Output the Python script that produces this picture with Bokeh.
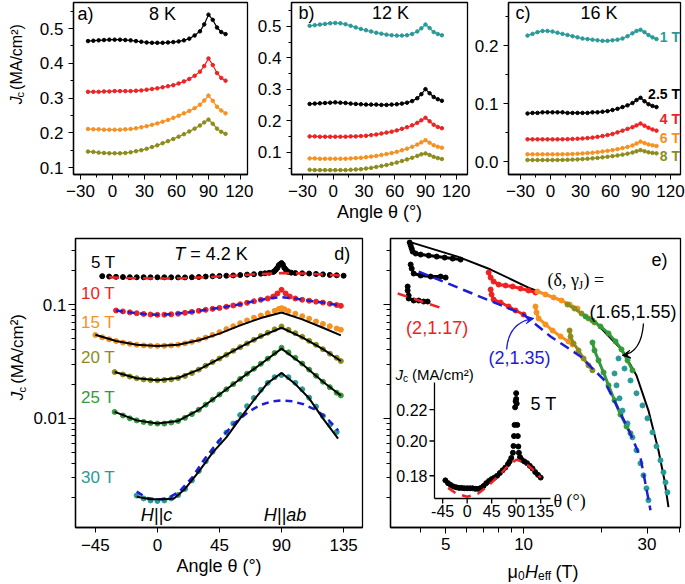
import math
from bokeh.plotting import figure
from bokeh.layouts import column, row
from bokeh.models import (Range1d, SingleIntervalTicker, FixedTicker, NumeralTickFormatter,
                          CustomJSTickFormatter, Label, Arrow, VeeHead, LinearScale, LogScale)
from bokeh.embed import file_html
from bokeh.resources import INLINE
from bokeh.core.properties import value

SANS = "Liberation Sans"
SERIF = "Liberation Serif"
BLACK = "#000000"; RED = "#ee2222"; ORANGE = "#f7901e"; OLIVE = "#8c8c1c"
GREEN = "#329a3a"; TEAL = "#2a9a98"; BLUE = "#1d1dd8"

# ---------------- panels a-c : Jc vs angle at 8, 12, 16 K ----------------
TH_ABC = [-23, -18, -13, -8, -3, 2, 7, 12, 17, 22, 27, 32, 37, 42, 47, 52, 57, 62, 67, 72,
          77, 82, 86, 90, 94, 98, 102, 106]
jc8_k = [0.464, 0.465, 0.466, 0.467, 0.468, 0.468, 0.468, 0.467, 0.466, 0.464, 0.462, 0.460, 0.459, 0.459,
         0.459, 0.460, 0.461, 0.463, 0.466, 0.471, 0.480, 0.492, 0.512, 0.540, 0.525, 0.503, 0.490, 0.484]
jc8_r = [0.318, 0.318, 0.318, 0.319, 0.319, 0.320, 0.320, 0.320, 0.320, 0.321, 0.322, 0.324, 0.326, 0.328,
         0.331, 0.334, 0.337, 0.342, 0.348, 0.355, 0.364, 0.376, 0.392, 0.414, 0.395, 0.372, 0.358, 0.350]
jc8_o = [0.211, 0.210, 0.210, 0.209, 0.209, 0.209, 0.209, 0.210, 0.211, 0.213, 0.216, 0.219, 0.223, 0.227,
         0.232, 0.237, 0.243, 0.249, 0.256, 0.263, 0.271, 0.281, 0.293, 0.307, 0.292, 0.275, 0.264, 0.256]
jc8_v = [0.146, 0.145, 0.143, 0.142, 0.141, 0.141, 0.141, 0.142, 0.144, 0.147, 0.150, 0.154, 0.159, 0.164,
         0.170, 0.176, 0.182, 0.189, 0.196, 0.204, 0.212, 0.221, 0.230, 0.238, 0.226, 0.212, 0.203, 0.197]
jc12_t = [0.502, 0.504, 0.506, 0.508, 0.510, 0.511, 0.510, 0.507, 0.502, 0.497, 0.492, 0.488, 0.484, 0.480,
          0.477, 0.474, 0.472, 0.471, 0.471, 0.472, 0.476, 0.484, 0.494, 0.506, 0.495, 0.482, 0.476, 0.472]
jc12_k = [0.254, 0.255, 0.256, 0.257, 0.258, 0.259, 0.258, 0.257, 0.255, 0.254, 0.253, 0.252, 0.252, 0.252,
          0.251, 0.251, 0.252, 0.253, 0.255, 0.258, 0.263, 0.272, 0.285, 0.301, 0.288, 0.276, 0.269, 0.264]
jc12_r = [0.151, 0.151, 0.150, 0.150, 0.150, 0.150, 0.150, 0.150, 0.151, 0.151, 0.152, 0.153, 0.155, 0.157,
          0.160, 0.163, 0.166, 0.170, 0.175, 0.180, 0.186, 0.194, 0.202, 0.210, 0.199, 0.188, 0.181, 0.177]
jc12_o = [0.081, 0.081, 0.080, 0.080, 0.080, 0.080, 0.080, 0.080, 0.081, 0.082, 0.083, 0.085, 0.087, 0.089,
          0.092, 0.095, 0.098, 0.102, 0.107, 0.112, 0.118, 0.125, 0.132, 0.139, 0.131, 0.123, 0.118, 0.115]
jc12_v = [0.045, 0.044, 0.044, 0.044, 0.044, 0.044, 0.044, 0.044, 0.045, 0.046, 0.047, 0.049, 0.051, 0.054,
          0.057, 0.060, 0.064, 0.068, 0.073, 0.078, 0.083, 0.089, 0.094, 0.097, 0.092, 0.086, 0.082, 0.079]
jc16_t = [0.217, 0.220, 0.223, 0.225, 0.225, 0.224, 0.222, 0.220, 0.218, 0.216, 0.214, 0.212, 0.211, 0.210,
          0.209, 0.208, 0.208, 0.209, 0.210, 0.212, 0.216, 0.221, 0.225, 0.227, 0.223, 0.218, 0.214, 0.211]
jc16_k = [0.083, 0.084, 0.084, 0.085, 0.085, 0.085, 0.085, 0.085, 0.084, 0.084, 0.084, 0.084, 0.084, 0.085,
          0.085, 0.086, 0.087, 0.089, 0.091, 0.094, 0.097, 0.101, 0.106, 0.110, 0.104, 0.099, 0.096, 0.094]
jc16_r = [0.0386, 0.0385, 0.0385, 0.0385, 0.0385, 0.0385, 0.0385, 0.0386, 0.0388, 0.0391, 0.0395, 0.0400,
          0.0407, 0.0415, 0.0428, 0.0442, 0.0458, 0.0478, 0.0505, 0.0535, 0.0565, 0.0595, 0.0625, 0.0657,
          0.0620, 0.0585, 0.0555, 0.0535]
jc16_o = [0.0127, 0.0127, 0.0127, 0.0127, 0.0127, 0.0127, 0.0127, 0.0128, 0.0130, 0.0133, 0.0137, 0.0142,
          0.0148, 0.0155, 0.0164, 0.0175, 0.0187, 0.0200, 0.0216, 0.0234, 0.0254, 0.0280, 0.0312, 0.0346,
          0.0320, 0.0298, 0.0282, 0.0270]
jc16_v = [0.0030, 0.0029, 0.0029, 0.0029, 0.0029, 0.0029, 0.0030, 0.0031, 0.0033, 0.0036, 0.0040, 0.0045,
          0.0051, 0.0058, 0.0066, 0.0075, 0.0085, 0.0096, 0.0108, 0.0122, 0.0138, 0.0158, 0.0180, 0.0200,
          0.0180, 0.0162, 0.0152, 0.0144]
FIELD_LABELS_C = ["1 T", "2.5 T", "4 T", "6 T", "8 T"]
FIELD_LABEL_Y_C = [0.2138, 0.1172, 0.0741, 0.0414, 0.0103]

# ---------------- panel d : 4.2 K ----------------
theta5 = [-40, -35, -30, -25, -20, -15, -10, -5, 0, 5, 10, 15, 20, 25, 30, 35, 40, 45, 50, 55,
          60, 65, 70, 75, 78, 81, 84, 85, 86, 87, 88, 89, 90, 90, 91, 92, 93, 94, 95, 97,
          100, 105, 110, 115, 120, 125, 130, 135]
jc5 = [0.1775, 0.1760, 0.1750, 0.1742, 0.1738, 0.1735, 0.1735, 0.1733, 0.1733, 0.1733,
       0.1733, 0.1730, 0.1730, 0.1735, 0.1745, 0.1760, 0.1772, 0.1782, 0.1790, 0.1800,
       0.1815, 0.1830, 0.1845, 0.1865, 0.1880, 0.1900, 0.1930, 0.1970, 0.2030, 0.2100,
       0.2215, 0.2256, 0.2312, 0.2272, 0.2240, 0.2100, 0.2030, 0.1967, 0.1930, 0.1905,
       0.1890, 0.1880, 0.1870, 0.1855, 0.1840, 0.1820, 0.1805, 0.1790]
th5f = [-35, -20, 0, 20, 40, 60, 75, 90, 105, 120, 135]
jc5f = [0.1735, 0.1705, 0.1689, 0.1705, 0.1750, 0.1805, 0.1855, 0.1890, 0.1875, 0.1835, 0.1790]
th10 = [-30, -25, -20, -15, -10, -5, 0, 5, 10, 15, 20, 25, 30, 35, 40, 45, 50, 55, 60, 65, 70, 75,
        80, 84, 87, 90, 93, 96, 100, 105, 110, 115, 120, 125, 130, 133]
jc10 = [0.0886, 0.0870, 0.0853, 0.0838, 0.0826, 0.0817, 0.0812, 0.0814, 0.0820, 0.0830,
        0.0845, 0.0862, 0.0880, 0.0898, 0.0916, 0.0933, 0.0955, 0.0980, 0.1005, 0.1035,
        0.1068, 0.1100, 0.1130, 0.1175, 0.1250, 0.1346, 0.1250, 0.1175, 0.1130, 0.1100,
        0.1080, 0.1060, 0.1040, 0.1015, 0.0990, 0.0974]
th10f = [-30, -20, -10, 0, 10, 20, 30, 40, 50, 60, 70, 80, 90, 100, 110, 120, 133]
jc10f = [0.0886, 0.0853, 0.0826, 0.0812, 0.0820, 0.0845, 0.0880, 0.0916, 0.0955, 0.1005,
         0.1068, 0.1128, 0.1159, 0.1128, 0.1080, 0.1040, 0.0974]
th15 = [-45, -40, -35, -30, -25, -20, -15, -10, -5, 0, 5, 10, 15, 20, 25, 30, 35, 40, 45, 50, 55,
        60, 65, 70, 75, 80, 85, 88, 90, 92, 95, 100, 105, 110, 115, 120, 125, 130, 133]
jc15 = [0.0540, 0.0515, 0.0495, 0.0478, 0.0463, 0.0452, 0.0443, 0.0437, 0.0434, 0.0433,
        0.0434, 0.0437, 0.0444, 0.0455, 0.0470, 0.0490, 0.0512, 0.0540, 0.0572, 0.0608,
        0.0645, 0.0685, 0.0725, 0.0765, 0.0800, 0.0840, 0.0880, 0.0915, 0.0929, 0.0910,
        0.0875, 0.0830, 0.0790, 0.0750, 0.0710, 0.0675, 0.0645, 0.0615, 0.0600]
th15f = [-45, -30, -15, 0, 15, 30, 45, 60, 75, 90, 105, 120, 133]
jc15f = [0.0542, 0.0478, 0.0443, 0.0432, 0.0443, 0.0485, 0.0555, 0.0655, 0.0760, 0.0851,
         0.0740, 0.0625, 0.0535]
TH_D = [-31, -25, -20, -15, -10, -5, 0, 5, 10, 15, 20, 25, 30, 35, 40, 45, 50, 55, 60, 65, 70, 75,
        80, 85, 90, 95, 100, 105, 110, 115, 120, 125, 130, 133]
jc20 = [0.0255, 0.0243, 0.0233, 0.0225, 0.0220, 0.0217, 0.0216, 0.0217, 0.0220, 0.0226,
        0.0236, 0.0250, 0.0268, 0.0290, 0.0312, 0.0335, 0.0362, 0.0392, 0.0422, 0.0455,
        0.0490, 0.0528, 0.0565, 0.0605, 0.0641, 0.0600, 0.0560, 0.0520, 0.0480, 0.0443,
        0.0405, 0.0370, 0.0340, 0.0319]
jc25 = [0.0114, 0.0106, 0.0100, 0.0096, 0.0093, 0.0091, 0.0090, 0.0090, 0.0092, 0.0095,
        0.0101, 0.0109, 0.0119, 0.0132, 0.0146, 0.0162, 0.0180, 0.0200, 0.0222, 0.0247,
        0.0273, 0.0302, 0.0335, 0.0375, 0.0417, 0.0380, 0.0340, 0.0303, 0.0268, 0.0237,
        0.0210, 0.0188, 0.0168, 0.0159]
TH_DF = [-31, -15, 0, 15, 30, 45, 60, 75, 90, 105, 120, 133]
jc20f = [0.0255, 0.0225, 0.0216, 0.0226, 0.0268, 0.0335, 0.0422, 0.0525, 0.0625, 0.0515, 0.0405, 0.0319]
jc25f = [0.0114, 0.0096, 0.0090, 0.0095, 0.0119, 0.0162, 0.0222, 0.0300, 0.0410, 0.0300, 0.0210, 0.0159]
th30 = [-15, -10, -5, 0, 5, 10, 15, 20, 25, 30, 35, 40, 45, 50, 55, 60, 65, 70, 75, 80, 85, 90,
        95, 100, 105, 110, 115, 120, 125, 130]
jc30 = [0.00210, 0.00198, 0.00190, 0.00188, 0.00190, 0.00198, 0.00212, 0.00240, 0.00285, 0.00345,
        0.00420, 0.00510, 0.00620, 0.00750, 0.00900, 0.01070, 0.01280, 0.01510, 0.01780, 0.02050,
        0.02300, 0.02400, 0.02300, 0.02050, 0.01800, 0.01520, 0.01270, 0.01050, 0.00880, 0.00760]
th30f = [-15, -5, 0, 5, 12, 20, 30, 40, 50, 60, 70, 80, 90, 100, 110, 120, 131]
jc30f = [0.00205, 0.00195, 0.00195, 0.00195, 0.00198, 0.0024, 0.0034, 0.0050, 0.0068, 0.0100,
         0.0145, 0.0205, 0.0250, 0.0200, 0.0150, 0.0100, 0.00664]
th30b = [-15, -8, 0, 8, 16, 25, 33, 41, 49, 57, 66, 74, 82, 90, 98, 106, 114, 122, 131]
jc30b = [0.00228, 0.00200, 0.00193, 0.00200, 0.00228, 0.0030, 0.0042, 0.0056, 0.00735, 0.0093,
         0.0114, 0.0130, 0.0140, 0.0144, 0.0141, 0.0133, 0.0120, 0.0103, 0.00785]
D_LABELS = ["5 T", "10 T", "15 T", "20 T", "25 T", "30 T"]
D_LABEL_Y = [0.2336, 0.1249, 0.0695, 0.0343, 0.01527, 0.00305]

# ---------------- panel e : Jc vs effective field ----------------
heff_fa = [3.597, 5.562, 7.46, 10.64, 14.27, 19.31, 24.11, 27.31, 30.38, 33.2, 35.03, 36.3]
jc_fa = [0.357, 0.2636, 0.2028, 0.1381, 0.1062, 0.0668, 0.0395, 0.0238, 0.0117, 0.00524, 0.00286, 0.00166]
heff_fb = [3.932, 10.0, 12.71, 16.6, 20.37, 25.21, 28.29, 30.93]
jc_fb = [0.1948, 0.0817, 0.0524, 0.035, 0.022, 0.00834, 0.00455, 0.00156]
heff_fr = [3.262, 4.998]
jc_fr = [0.1249, 0.0904]
hx_k1 = [3.629, 3.662, 3.695, 3.727, 3.83, 4.002, 4.298, 4.615, 4.955, 5.32, 5.711]
jy_k1 = [0.350, 0.3293, 0.3099, 0.2917, 0.2803, 0.2745, 0.269, 0.2636, 0.2582, 0.2531, 0.2481]
hx_k2 = [3.662, 3.695, 3.761, 4.002, 4.374, 4.78, 4.998]
jy_k2 = [0.2243, 0.2069, 0.187, 0.1797, 0.176, 0.176, 0.1725]
hx_k3 = [3.565, 3.565, 3.597, 3.597, 3.761, 3.932, 4.111, 4.259]
jy_k3 = [0.1439, 0.1327, 0.1199, 0.1129, 0.1084, 0.1084, 0.1062, 0.1062]
hx_r1 = [7.328, 7.46, 7.661, 8.009, 8.52, 9.07, 9.736, 10.45, 11.12]
jy_r1 = [0.1909, 0.1725, 0.1591, 0.1497, 0.1468, 0.1439, 0.1381, 0.1327, 0.1274]
hx_r2 = [7.46, 7.52, 7.661, 8.152, 8.752, 9.314, 10.0]
jy_r2 = [0.1354, 0.1224, 0.1106, 0.1041, 0.096, 0.0886, 0.0817]
hx_o1 = [11.32, 12.16, 13.06, 14.02, 15.06, 16.16]
jy_o1 = [0.13, 0.1224, 0.1152, 0.1084, 0.1, 0.0922]
hx_o2 = [11.12, 11.22, 11.43, 12.16, 12.94, 13.9, 14.92, 15.46]
jy_o2 = [0.096, 0.0851, 0.0754, 0.0668, 0.0591, 0.0524, 0.0474, 0.0446]
hx_v1 = [14.78, 15.73, 16.75, 17.82, 18.8]
jy_v1 = [0.1, 0.0922, 0.0834, 0.0754, 0.0695]
hx_v2 = [15.06, 15.19, 15.6, 16.31, 17.05, 17.82, 18.46]
jy_v2 = [0.0591, 0.0524, 0.0455, 0.0395, 0.0336, 0.0292, 0.0264]
hx_g1 = [17.36, 18.46, 19.83, 21.29, 22.66, 23.9, 25.21, 26.35]
jy_g1 = [0.0785, 0.0724, 0.0641, 0.0557, 0.0474, 0.0403, 0.0323, 0.0264]
hx_g2 = [18.46, 18.8, 19.48, 20.37, 21.29, 22.46, 23.69, 24.99, 25.89]
jy_g2 = [0.0464, 0.0395, 0.0323, 0.0253, 0.0195, 0.0144, 0.0108, 0.0085, 0.00739]
hx_t1 = [23.27, 24.55, 25.89, 27.31, 28.81, 30.11, 31.49, 32.63, 33.81, 34.72, 35.35, 35.97]
jy_t1 = [0.0336, 0.0274, 0.0215, 0.0166, 0.0130, 0.0100, 0.00754, 0.00568, 0.00428, 0.00336, 0.00274, 0.00224]
hx_t2 = [22.46, 22.86, 23.49, 24.11, 25.21, 26.35, 27.31, 28.29, 29.06, 29.85, 30.38]
jy_t2 = [0.0248, 0.0195, 0.0150, 0.0117, 0.00903, 0.00681, 0.00524, 0.00403, 0.00316, 0.00243, 0.00191]
INSET_XTICKS = [-45, 0, 45, 90, 135]
INSET_YTICKS = [0.18, 0.20, 0.22]
LOG_MINOR = [0.002, 0.003, 0.004, 0.005, 0.006, 0.007, 0.008, 0.009,
             0.02, 0.03, 0.04, 0.05, 0.06, 0.07, 0.08, 0.09, 0.2, 0.3]


def base_fig(w, h, xr, yr, bl, br, bt, bb, **kw):
    p = figure(width=w, height=h, x_range=Range1d(*xr), y_range=Range1d(*yr),
               output_backend="svg", toolbar_location=None,
               min_border_left=bl, min_border_right=br, min_border_top=bt, min_border_bottom=bb, **kw)
    p.xgrid.visible = False
    p.ygrid.visible = False
    p.outline_line_color = "black"
    p.outline_line_width = 1.3
    p.outline_line_alpha = 1.0
    p.background_fill_color = "white"
    p.border_fill_color = "white"
    for ax in p.axis:
        ax.axis_line_width = 1.3
        ax.axis_line_color = "black"
        ax.major_tick_line_color = "black"
        ax.minor_tick_line_color = "black"
        ax.major_tick_out = 5
        ax.major_tick_in = 0
        ax.minor_tick_out = 3
        ax.minor_tick_in = 0
        ax.major_label_text_font = SANS
        ax.major_label_text_font_size = "17px"
        ax.major_label_text_color = "black"
        ax.major_label_standoff = 5
        ax.axis_label_text_font = SANS
        ax.axis_label_text_font_size = "18px"
        ax.axis_label_text_font_style = "normal"
        ax.axis_label_text_color = "black"
        ax.axis_label_standoff = 2
    return p


def carrier(w, h):
    """An axis-less canvas (data units = pixels) that only carries composite axis titles."""
    p = figure(width=w, height=h, x_range=Range1d(0, w), y_range=Range1d(0, h),
               output_backend="svg", toolbar_location=None, x_axis_location=None,
               y_axis_location=None, min_border_left=0, min_border_right=0,
               min_border_top=0, min_border_bottom=0)
    p.xgrid.visible = False
    p.ygrid.visible = False
    p.outline_line_color = None
    p.background_fill_color = "white"
    p.border_fill_color = "white"
    return p


def lab(p, x, y, text, size=18, color="black", align="left", baseline="middle", style="normal",
        font=SANS, units="data", angle=0.0, xo=0, yo=0):
    p.add_layout(Label(x=x, y=y, text=text, x_units=units, y_units=units, text_font=font,
                       text_font_size=f"{size}px", text_color=color, text_align=align,
                       text_baseline=baseline, text_font_style=style, angle=angle,
                       x_offset=xo, y_offset=yo))


def jc_ylabel(p, x, y0, size=18):
    """Rotated 'J_c (MA/cm²)' drawn as text glyphs on a carrier canvas."""
    sub = int(round(size * 0.67))
    xs = [x, x + 4, x]
    ys = [y0, y0 + size * 0.55, y0 + size * 0.55 + sub * 0.5 + size * 0.3]
    texts = ["J", "c", "(MA/cm²)"]
    sizes = [f"{size}px", f"{sub}px", f"{size}px"]
    styles = ["italic", "normal", "normal"]
    for xi, yi, t, s, st in zip(xs, ys, texts, sizes, styles):
        p.text(x=[xi], y=[yi], text=[t], angle=math.pi / 2, text_align="left",
               text_baseline="middle", text_font=value(SANS), text_font_size=value(s),
               text_font_style=value(st), text_color="black")


def top_panel(w, xr, yr, bl, br, series, tag, temp, tag_xy, temp_x):
    p = base_fig(w, 230, xr, yr, bl, br, 2, 56)
    p.xaxis.ticker = SingleIntervalTicker(interval=30, num_minor_ticks=2)
    p.yaxis.ticker = SingleIntervalTicker(interval=0.1, num_minor_ticks=2)
    p.yaxis.formatter = NumeralTickFormatter(format="0.0")
    for ys, c in series:
        p.line(TH_ABC, ys, color=c, line_width=1.2)
        p.scatter(TH_ABC, ys, size=3.5, color=c)
    lab(p, tag_xy[0], tag_xy[1], tag)
    lab(p, temp_x, tag_xy[1], temp, align="center")
    return p


ylab_top = carrier(30, 230)
jc_ylabel(ylab_top, 15.5, 94, size=16)
pa = top_panel(223, (-36.6, 126.6), (0.08, 0.575), 43, 6,
               [(jc8_k, BLACK), (jc8_r, RED), (jc8_o, ORANGE), (jc8_v, OLIVE)],
               "a)", "8 K", (-32.9, 0.5432), 46.9)
pb = top_panel(218, (-40.7, 131.0), (0.03, 0.576), 38, 4,
               [(jc12_t, TEAL), (jc12_k, BLACK), (jc12_r, RED), (jc12_o, ORANGE), (jc12_v, OLIVE)],
               "b)", "12 K", (-33.9, 0.5413), 55.9)
pc = top_panel(214, (-42.0, 130.0), (-0.022, 0.274), 34, 5,
               [(jc16_t, TEAL), (jc16_k, BLACK), (jc16_r, RED), (jc16_o, ORANGE), (jc16_v, OLIVE)],
               "c)", "16 K", (-34.9, 0.2552), 48.4)
pb.xaxis.axis_label = "Angle θ (°)"
for t, yv, c in zip(FIELD_LABELS_C, FIELD_LABEL_Y_C, [TEAL, BLACK, RED, ORANGE, OLIVE]):
    lab(pc, 129.5, yv, t, size=14, color=c, align="right", style="bold")

# ---------------- panel d ----------------
ylab_d = carrier(30, 354)
jc_ylabel(ylab_d, 17, 156, size=17)
pd = base_fig(350, 354, (-59.4, 148.7), (0.0011, 0.38), 43, 18, 8, 57, y_axis_type="log")
pd.xaxis.ticker = FixedTicker(ticks=[-45, 0, 45, 90, 135])
pd.yaxis.ticker = FixedTicker(ticks=[0.01, 0.1], minor_ticks=LOG_MINOR)
pd.yaxis.formatter = CustomJSTickFormatter(code="return String(tick)")
pd.yaxis.major_tick_out = 7
pd.yaxis.minor_tick_out = 4
pd.yaxis.major_label_standoff = 2
pd.xaxis.major_label_standoff = 6
pd.xaxis.axis_label = "Angle θ (°)"

pd.scatter(theta5, jc5, size=5, color=BLACK)
pd.line(th5f, jc5f, color=RED, line_width=2.5, line_dash="10 7")
pd.scatter(th10, jc10, size=5, color=RED)
pd.line(th10f, jc10f, color=BLUE, line_width=2.5, line_dash="7 5")
pd.scatter(th15, jc15, size=5, color=ORANGE)
pd.line(th15f, jc15f, color=BLACK, line_width=2)
pd.scatter(TH_D, jc20, size=5, color=OLIVE)
pd.line(TH_DF, jc20f, color=BLACK, line_width=2)
pd.scatter(TH_D, jc25, size=5, color=GREEN)
pd.line(TH_DF, jc25f, color=BLACK, line_width=2)
pd.scatter(th30, jc30, size=5, color=TEAL)
pd.line(th30b, jc30b, color=BLUE, line_width=2.5, line_dash="7 5")
pd.line(th30f, jc30f, color=BLACK, line_width=2)

for t, yv, c in zip(D_LABELS, D_LABEL_Y, [BLACK, RED, ORANGE, OLIVE, GREEN, TEAL]):
    lab(pd, -48.2 if t == "5 T" else -55.4, yv, t, size=17, color=c)
lab(pd, 12.2, 0.280, "T", style="italic")
lab(pd, 12.2, 0.280, "= 4.2 K", xo=16)
lab(pd, 134, 0.280, "d)", align="center")
lab(pd, -0.7, 0.00141, "H||c", style="italic", align="center")
lab(pd, 92.5, 0.00141, "H||ab", style="italic", align="center")

# ---------------- panel e ----------------
pe = base_fig(305, 328, (3.06, 40.4), (0.0011, 0.38), 10, 5, 8, 31,
              x_axis_type="log", y_axis_type="log")
pe.xaxis.ticker = FixedTicker(ticks=[5, 10, 30], minor_ticks=[4, 6, 7, 8, 9, 20, 40])
pe.xaxis.formatter = CustomJSTickFormatter(code="return String(tick)")
pe.xaxis.major_tick_out = 6
pe.xaxis.minor_tick_out = 5
pe.xaxis.major_label_standoff = 4
pe.yaxis.ticker = FixedTicker(ticks=[0.01, 0.1], minor_ticks=LOG_MINOR)
pe.yaxis.formatter = CustomJSTickFormatter(code="return ''")
pe.yaxis.major_tick_out = 7
pe.yaxis.minor_tick_out = 4

# inset placement (fractions of the frame) and inset data ranges
IN_FX = (0.1517, 0.5517)
IN_FY = (0.1003, 0.5017)
IN_XR = (-60.0, 153.0)
IN_YR = (0.168, 0.2388)
span_x = (IN_XR[1] - IN_XR[0]) / (IN_FX[1] - IN_FX[0])
ix0 = IN_XR[0] - IN_FX[0] * span_x
L0, L1 = math.log10(IN_YR[0]), math.log10(IN_YR[1])
span_l = (L1 - L0) / (IN_FY[1] - IN_FY[0])
ly0 = L0 - IN_FY[0] * span_l
pe.extra_x_ranges = {"ix": Range1d(ix0, ix0 + span_x)}
pe.extra_x_scales = {"ix": LinearScale()}
pe.extra_y_ranges = {"iy": Range1d(10 ** ly0, 10 ** (ly0 + span_l))}
pe.extra_y_scales = {"iy": LogScale()}

# main e curves
pe.line(heff_fa, jc_fa, color=BLACK, line_width=2)
for hx, jy, c in [(hx_k1, jy_k1, BLACK), (hx_k2, jy_k2, BLACK), (hx_k3, jy_k3, BLACK),
                  (hx_r1, jy_r1, RED), (hx_r2, jy_r2, RED), (hx_o1, jy_o1, ORANGE),
                  (hx_o2, jy_o2, ORANGE), (hx_v1, jy_v1, OLIVE), (hx_v2, jy_v2, OLIVE),
                  (hx_g1, jy_g1, GREEN), (hx_g2, jy_g2, GREEN)]:
    pe.line(hx, jy, color=c, line_width=3)
    pe.scatter(hx, jy, size=5, color=c)
pe.scatter(hx_t1, jy_t1, size=5, color=TEAL)
pe.scatter(hx_t2, jy_t2, size=5, color=TEAL)
pe.line(heff_fb, jc_fb, color=BLUE, line_width=2.5, line_dash="10 6")
pe.line(heff_fr, jc_fr, color=RED, line_width=2.5, line_dash="10 7")

# annotations of e
lab(pe, 33.5, 0.2481, "e)", align="center")
lab(pe, 4.634, 0.0616, "(2,1.17)", color=RED, align="center")
lab(pe, 9.65, 0.0336, "(2,1.35)", color=BLUE, align="center")
lab(pe, 26.48, 0.0868, "(1.65,1.55)", align="center")
lab(pe, 12.38, 0.1657, "(δ, γ", font=SERIF)
lab(pe, 12.38, 0.1657, "J", font=SERIF, size=12, xo=31, yo=-5)
lab(pe, 12.38, 0.1657, ") =", font=SERIF, xo=36)
pe.quadratic(x0=[29.06], y0=[0.0681], x1=[24.11], y1=[0.0357], cx=[28.55], cy=[0.0379],
             line_color=BLACK, line_width=1.3)
pe.add_layout(Arrow(end=VeeHead(size=8, fill_color=BLACK, line_color=BLACK), x_start=25.21,
                    y_start=0.03627, x_end=24.11, y_end=0.0357, line_color=BLACK, line_width=1.3))
pe.quadratic(x0=[8.60], y0=[0.0403], x1=[10.93], y1=[0.0754], cx=[8.752], cy=[0.0695],
             line_color=BLUE, line_width=1.3)
pe.add_layout(Arrow(end=VeeHead(size=8, fill_color=BLUE, line_color=BLUE), x_start=10.45,
                    y_start=0.0742, x_end=10.93, y_end=0.0754, line_color=BLUE, line_width=1.3))

# inset axes
kw = dict(x_range_name="ix", y_range_name="iy")
pe.line([IN_XR[0], IN_XR[0]], [IN_YR[0], IN_YR[1]], color=BLACK, line_width=1.3, **kw)
pe.line([IN_XR[0], IN_XR[1]], [IN_YR[0], IN_YR[0]], color=BLACK, line_width=1.3, **kw)
pe.ray(x=[IN_XR[0]] * len(INSET_YTICKS), y=INSET_YTICKS, length=5, length_units="screen",
       angle=math.pi, color=BLACK, line_width=1.3, **kw)
pe.ray(x=INSET_XTICKS, y=[IN_YR[0]] * len(INSET_XTICKS), length=5, length_units="screen",
       angle=-math.pi / 2, color=BLACK, line_width=1.3, **kw)
pe.text(x=[IN_XR[0]] * len(INSET_YTICKS), y=INSET_YTICKS, text=[f"{v:.2f}" for v in INSET_YTICKS],
        x_offset=-7, text_align="right", text_baseline="middle", text_font=value(SANS),
        text_font_size="16px", text_color=BLACK, **kw)
pe.text(x=INSET_XTICKS, y=[IN_YR[0]] * len(INSET_XTICKS), text=[str(v) for v in INSET_XTICKS],
        y_offset=6, text_align="center", text_baseline="top", text_font=value(SANS),
        text_font_size="16px", text_color=BLACK, **kw)
pe.scatter(theta5, jc5, size=5, color=BLACK, **kw)
pe.line(th5f, jc5f, color=RED, line_width=2.5, line_dash="9 7", **kw)
# inset labels (frame-relative screen units)
lab(pe, 5, 153, "J", size=15, style="italic", units="screen")
lab(pe, 12.5, 149, "c", size=10, units="screen")
lab(pe, 21.5, 153, "(MA/cm²)", size=15, units="screen")
lab(pe, 163, 27, "θ (°)", font=SERIF, units="screen")
lab(pe, 140, 124, "5 T", units="screen")

# x title of e on its own carrier strip
xlab_e = carrier(305, 26)
lab(xlab_e, 117, 13, "μ", units="screen")
lab(xlab_e, 127.5, 9, "0", size=12, units="screen")
lab(xlab_e, 134.5, 13, "H", style="italic", units="screen")
lab(xlab_e, 147.5, 9, "eff", size=12, units="screen")
lab(xlab_e, 165, 13, "(T)", units="screen")

layout = column(row(ylab_top, pa, pb, pc), row(ylab_d, pd, column(pe, xlab_e)))
html = file_html(layout, INLINE, title="Jc angular dependence")
open("out.html", "w").write(html)
